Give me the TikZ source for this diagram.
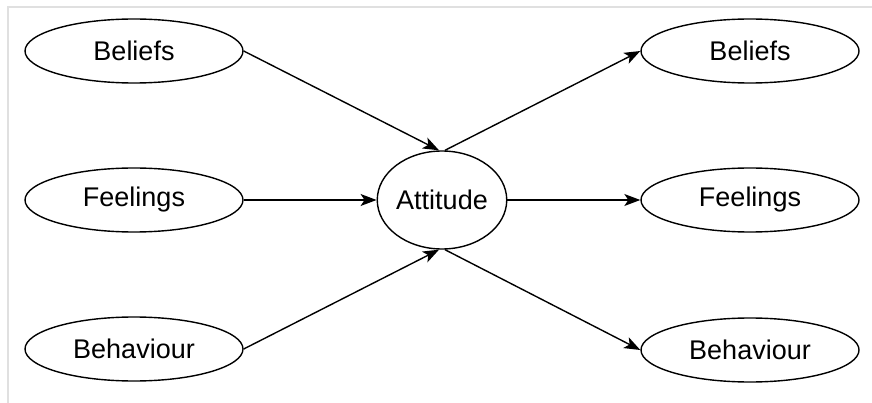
\documentclass[tikz,border=0pt]{standalone}
\usepackage{fontspec}
\setmainfont{Liberation Sans}
\usetikzlibrary{shapes.geometric,arrows.meta}
\begin{document}
\begin{tikzpicture}[x=1pt,y=-1pt,
  oval/.style={ellipse,draw,line width=1.4pt,inner sep=0pt,
    minimum width=218pt,minimum height=64pt,font=\fontsize{27}{32}\selectfont},
  hub/.style={ellipse,draw,line width=1.4pt,inner sep=0pt,
    minimum width=128pt,minimum height=98pt,font=\fontsize{27}{32}\selectfont},
  link/.style={line width=1.4pt,-{Stealth[length=16pt,width=12pt,inset=4pt]}}]
\useasboundingbox (0,0) rectangle (872,403);
% light frame lines along the top and left
\draw[color=black!12,line width=1.5pt] (8,403) -- (8,7) -- (872,7);
% nodes
\node[hub] (att) at (442,200) {Attitude};
\node[oval] (lb) at (134,51) {Beliefs};
\node[oval] (lf) at (134,200) {Feelings};
\node[oval] (lh) at (134,349) {Behaviour};
\node[oval] (rb) at (750,51) {Beliefs};
\node[oval] (rf) at (750,200) {Feelings};
\node[oval] (rh) at (750,350) {Behaviour};
% incoming connectors
\draw[link] (lb.east) -- ([xshift=-3pt]att.north);
\draw[link] (lf.east) -- (att.west);
\draw[link] (lh.east) -- ([xshift=-3pt]att.south);
% outgoing connectors
\draw[link] ([xshift=3pt]att.north) -- (rb.west);
\draw[link] (att.east) -- (rf.west);
\draw[link] ([xshift=3pt]att.south) -- (rh.west);
\end{tikzpicture}
\end{document}
